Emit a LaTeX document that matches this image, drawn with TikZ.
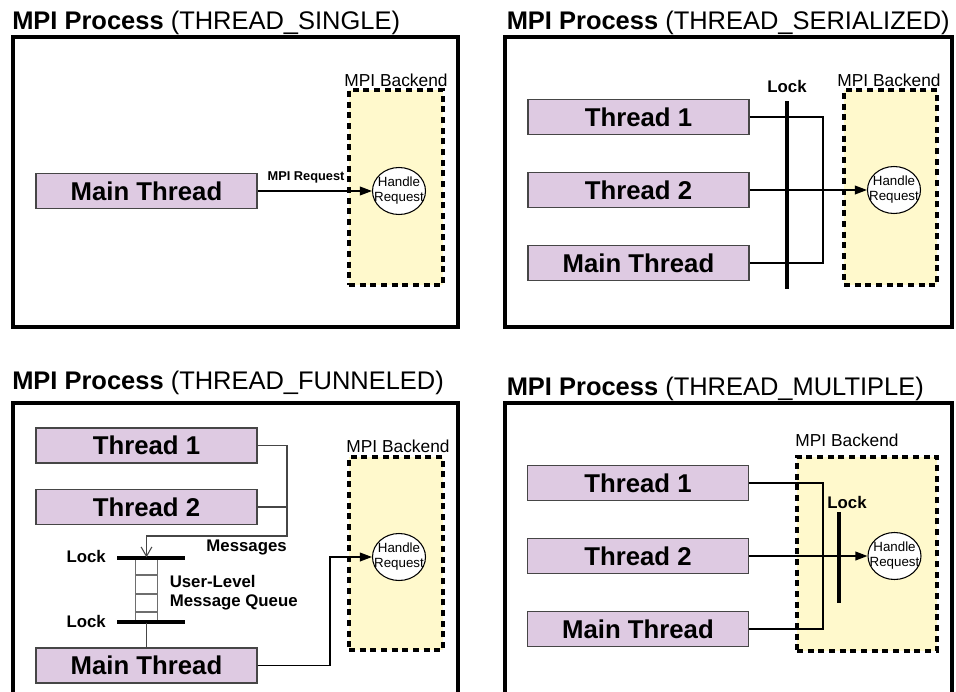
\documentclass[tikz,border=0pt]{standalone}
\usepackage{fontspec}
\setmainfont{Liberation Sans}
\usetikzlibrary{arrows.meta,shapes.geometric}
\definecolor{lilac}{RGB}{222,202,226}
\definecolor{pale}{RGB}{255,249,204}
\definecolor{edgegray}{RGB}{70,70,70}
\definecolor{qgray}{RGB}{110,110,110}
\begin{document}
\begin{tikzpicture}[x=0.75pt,y=-0.75pt,
  outerbox/.style={draw=black,line width=2.3pt},
  ptitle/.style={inner sep=0pt,anchor=base west,font=\fontsize{19.1pt}{23pt}\selectfont},
  thread/.style={draw=edgegray,fill=lilac,line width=1pt,minimum width=165.75pt,minimum height=26.25pt,inner sep=0pt,font=\fontsize{19.3pt}{22pt}\selectfont\bfseries},
  backend/.style={draw=black,fill=pale,line width=2.7pt,dash pattern=on 4.5pt off 3.5pt,inner sep=0pt},
  backlabel/.style={inner sep=0pt,anchor=base,font=\fontsize{13pt}{15pt}\selectfont},
  handle/.style={ellipse,draw=black,fill=white,line width=0.8pt,minimum width=39.75pt,minimum height=35.25pt,inner sep=0pt},
  handletext/.style={inner sep=0pt,align=center,font=\fontsize{10pt}{11.25pt}\selectfont},
  conn/.style={draw=black,line width=1.1pt},
  thinconn/.style={draw=edgegray,line width=0.8pt},
  tip/.style={-{Triangle[length=9pt,width=6.5pt]}},
  lockbar/.style={draw=black,line width=2.3pt},
  boldlabel/.style={inner sep=0pt,font=\fontsize{12.6pt}{15pt}\selectfont\bfseries},
  smalllabel/.style={inner sep=0pt,anchor=base,font=\fontsize{9.6pt}{11pt}\selectfont\bfseries},
  queuebox/.style={draw=qgray,line width=0.9pt,minimum width=16.5pt,minimum height=48pt,inner sep=0pt},
  qline/.style={draw=qgray,line width=0.9pt}
]
\useasboundingbox (0,0) rectangle (956,692);
\clip (0,0) rectangle (956,692);

% ---------------- Panel 1: THREAD_SINGLE ----------------
\node[ptitle] (title1) at (12,30) {\textbf{MPI Process} (THREAD\_SINGLE)};
\draw[outerbox] (13,37) rectangle (458,327);
\node[thread] (main1) at (146.5,191) {Main Thread};
\node[backend,minimum width=70.5pt,minimum height=146.25pt] (back1) at (396,187.5) {};
\node[backlabel] (backl1) at (396,86) {MPI Backend};
\node[handle] (ell1) at (399,191) {};
\node[handletext] (ellt1) at (ell1) {Handle\\Request};
\draw[conn,tip] (main1.east) -- (ell1.west);
\node[smalllabel] (req1) at (306,180) {MPI Request};

% ---------------- Panel 2: THREAD_SERIALIZED ----------------
\node[ptitle] (title2) at (506.5,30) {\textbf{MPI Process} (THREAD\_SERIALIZED)};
\draw[outerbox] (505,37) rectangle (952,327);
\node[thread] (t21) at (638.5,117) {Thread 1};
\node[thread] (t22) at (638.5,190) {Thread 2};
\node[thread] (main2) at (638.5,263) {Main Thread};
\node[backend,minimum width=69.75pt,minimum height=146.25pt] (back2) at (890.5,187.5) {};
\node[backlabel] (backl2) at (889,86) {MPI Backend};
\node[handle] (ell2) at (894,190) {};
\node[handletext] (ellt2) at (ell2) {Handle\\Request};
\coordinate (j2) at (823,190);
\draw[conn] (t21.east) -| (j2) |- (main2.east);
\draw[conn,tip] (t22.east) -- (ell2.west);
\draw[lockbar] (787,101) -- (787,289);
\node[boldlabel,anchor=base] (lock2) at (787,93) {Lock};

% ---------------- Panel 3: THREAD_FUNNELED ----------------
\node[ptitle] (title3) at (12,389) {\textbf{MPI Process} (THREAD\_FUNNELED)};
\draw[outerbox] (13,403) rectangle (458,720);
\node[thread] (t31) at (146.5,445.5) {Thread 1};
\node[thread] (t32) at (146.5,507) {Thread 2};
\node[thread] (main3) at (146.5,665.5) {Main Thread};
\node[backend,minimum width=70.5pt,minimum height=144.75pt] (back3) at (396,553.5) {};
\node[backlabel] (backl3) at (398,452) {MPI Backend};
\node[handle] (ell3) at (399,557) {};
\node[handletext] (ellt3) at (ell3) {Handle\\Request};
% queue
\node[queuebox] (queue) at (146.5,590) {};
\draw[qline] (queue.west |- 0,575) -- (queue.east |- 0,575);
\draw[qline] (queue.west |- 0,594) -- (queue.east |- 0,594);
\draw[qline] (queue.west |- 0,612) -- (queue.east |- 0,612);
\draw[lockbar] (117,558) -- (185,558);
\draw[lockbar] (117,622) -- (185,622);
\node[boldlabel,anchor=base east] (lock31) at (106,562) {Lock};
\node[boldlabel,anchor=base east] (lock32) at (106,627) {Lock};
\node[boldlabel,anchor=base west] (ul) at (169.5,587) {User-Level};
\node[boldlabel,anchor=base west] (mq) at (169.5,606) {Message Queue};
\node[boldlabel,anchor=base east] (msgs) at (287,551) {Messages};
% connectors
\coordinate (m3) at (287,536);
\draw[thinconn,-{Straight Barb[length=7pt,width=8pt]}] (t31.east) -| (m3) -| (queue.north);
\draw[thinconn] (t32.east) -- (t32.east -| m3);
\draw[thinconn] (queue.south) -- (main3.north);
\coordinate (j3) at (330,557);
\draw[conn,tip] (main3.east) -| (j3) -- (ell3.west);

% ---------------- Panel 4: THREAD_MULTIPLE ----------------
\node[ptitle] (title4) at (506.5,395) {\textbf{MPI Process} (THREAD\_MULTIPLE)};
\draw[outerbox] (505,403) rectangle (952,720);
\node[thread] (t41) at (638,483) {Thread 1};
\node[thread] (t42) at (638,556) {Thread 2};
\node[thread] (main4) at (638,629) {Main Thread};
\node[backend,minimum width=105pt,minimum height=145.5pt] (back4) at (867,554) {};
\node[backlabel] (backl4) at (847,446) {MPI Backend};
\node[handle] (ell4) at (894.5,556) {};
\node[handletext] (ellt4) at (ell4) {Handle\\Request};
\coordinate (j4) at (823,556);
\draw[conn] (t41.east) -| (j4) |- (main4.east);
\draw[conn,tip] (t42.east) -- (ell4.west);
\draw[lockbar] (839,512) -- (839,603);
\node[boldlabel,anchor=base] (lock4) at (847,508) {Lock};
\end{tikzpicture}
\end{document}
